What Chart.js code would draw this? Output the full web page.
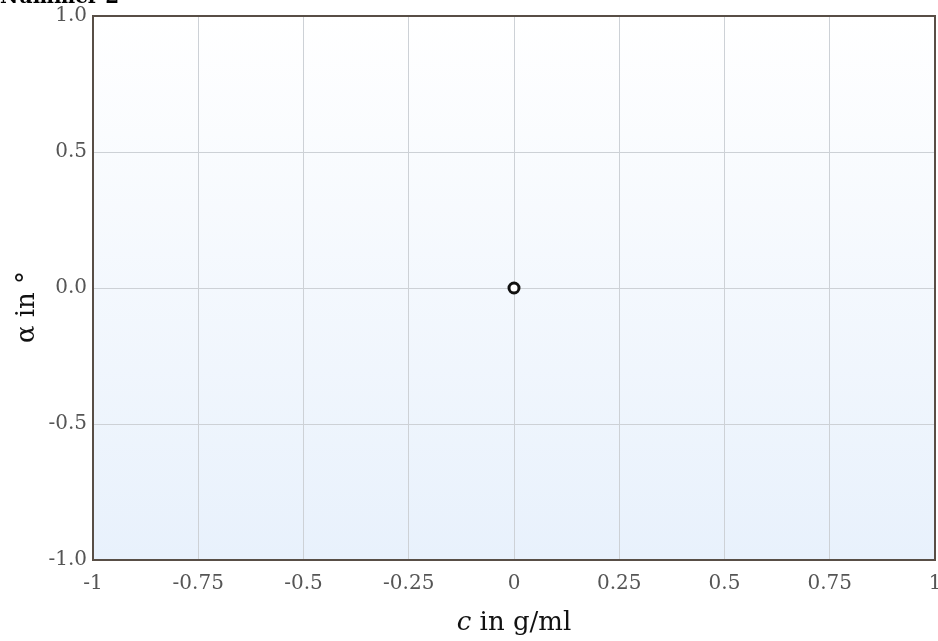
<!DOCTYPE html>
<html>
<head>
<meta charset="utf-8">
<script src="https://cdn.jsdelivr.net/npm/chart.js@4"></script>
<style>
  html, body { margin: 0; padding: 0; background: #fff; overflow: hidden; }
  #wrap { width: 938px; height: 641px; overflow: hidden; }
  #chart { display: block; }
</style>
</head>
<body>
<div id="wrap"><canvas id="chart" width="943" height="641"></canvas></div>
<script>
'use strict';

// ── Data ─────────────────────────────────────────────
const xValues = [0];
const yValues = [0];
const xTicks = [-1, -0.75, -0.5, -0.25, 0, 0.25, 0.5, 0.75, 1];
const xTickLabels = ['-1', '-0.75', '-0.5', '-0.25', '0', '0.25', '0.5', '0.75', '1'];
const yTicks = [-1, -0.5, 0, 0.5, 1];
const yTickLabels = ['-1.0', '-0.5', '0.0', '0.5', '1.0'];
const chartTitle = 'Nummer 2';
const yTitle = 'α in °';

const serif = '"DejaVu Serif", serif';
const tickColor = '#555';
const gridColor = '#cdd1d6';

// plot background: white to light blue, dark frame on top
const plotBackground = {
    id: 'plotBackground',
    beforeDraw(chart) {
        const { ctx, chartArea: a } = chart;
        const g = ctx.createLinearGradient(0, a.top, 0, a.bottom);
        g.addColorStop(0, '#ffffff');
        g.addColorStop(1, '#e8f1fc');
        ctx.save();
        ctx.fillStyle = g;
        ctx.fillRect(a.left, a.top, a.right - a.left, a.bottom - a.top);
        ctx.restore();
    },
    afterDatasetsDraw(chart) {
        const { ctx, chartArea: a } = chart;
        ctx.save();
        ctx.strokeStyle = '#584e46';
        ctx.lineWidth = 2;
        ctx.strokeRect(a.left, a.top, a.right - a.left, a.bottom - a.top);
        ctx.restore();
    }
};

// titles: italic "c" in the x title, rotated y title, clipped heading
const axisTitles = {
    id: 'axisTitles',
    afterDraw(chart) {
        const { ctx, chartArea: a } = chart;
        ctx.save();
        ctx.fillStyle = '#111';
        ctx.textBaseline = 'alphabetic';

        // x title
        const italic = 'italic 26px ' + serif;
        const normal = '26px ' + serif;
        ctx.font = italic;
        const w1 = ctx.measureText('c').width;
        ctx.font = normal;
        const w2 = ctx.measureText(' in g/ml').width;
        const x = (a.left + a.right) / 2 - (w1 + w2) / 2;
        ctx.font = italic;
        ctx.fillText('c', x, 630);
        ctx.font = normal;
        ctx.fillText(' in g/ml', x + w1, 630);

        // y title
        ctx.translate(34, 307);
        ctx.rotate(-Math.PI / 2);
        ctx.textAlign = 'center';
        ctx.fillText(yTitle, 0, 0);
        ctx.restore();

        // heading, mostly above the top edge
        ctx.save();
        ctx.fillStyle = '#000';
        ctx.font = 'bold 20px ' + serif;
        ctx.textBaseline = 'alphabetic';
        ctx.fillText(chartTitle, 0, 3);
        ctx.restore();
    }
};

new Chart(document.getElementById('chart'), {
    type: 'scatter',
    data: {
        datasets: [{
            data: xValues.map((x, i) => ({ x: x, y: yValues[i] })),
            pointRadius: 5,
            pointBorderWidth: 3,
            pointBackgroundColor: '#ffffff',
            pointBorderColor: '#111111',
            pointHoverRadius: 5,
        }]
    },
    options: {
        responsive: false,
        animation: false,
        layout: { padding: { top: 16, right: 0, left: 0, bottom: 0 } },
        plugins: {
            legend: { display: false },
            tooltip: { enabled: false },
        },
        scales: {
            x: {
                type: 'linear',
                min: -1,
                max: 1,
                afterBuildTicks: (s) => { s.ticks = xTicks.map(v => ({ value: v })); },
                afterFit: (s) => { s.height = 81; s.paddingLeft = 0; s.paddingRight = 0; },
                grid: { color: gridColor, drawTicks: false, lineWidth: 1 },
                border: { display: false },
                ticks: {
                    color: tickColor,
                    padding: 12,
                    font: { family: serif, size: 20 },
                    callback: (v) => xTickLabels[xTicks.indexOf(v)],
                },
            },
            y: {
                type: 'linear',
                min: -1,
                max: 1,
                afterBuildTicks: (s) => { s.ticks = yTicks.map(v => ({ value: v })); },
                afterFit: (s) => { s.width = 93; s.paddingTop = 0; s.paddingBottom = 0; },
                grid: { color: gridColor, drawTicks: false, lineWidth: 1 },
                border: { display: false },
                ticks: {
                    color: tickColor,
                    padding: 6,
                    font: { family: serif, size: 20 },
                    callback: (v) => yTickLabels[yTicks.indexOf(v)],
                },
            },
        },
    },
    plugins: [plotBackground, axisTitles],
});
</script>
</body>
</html>
